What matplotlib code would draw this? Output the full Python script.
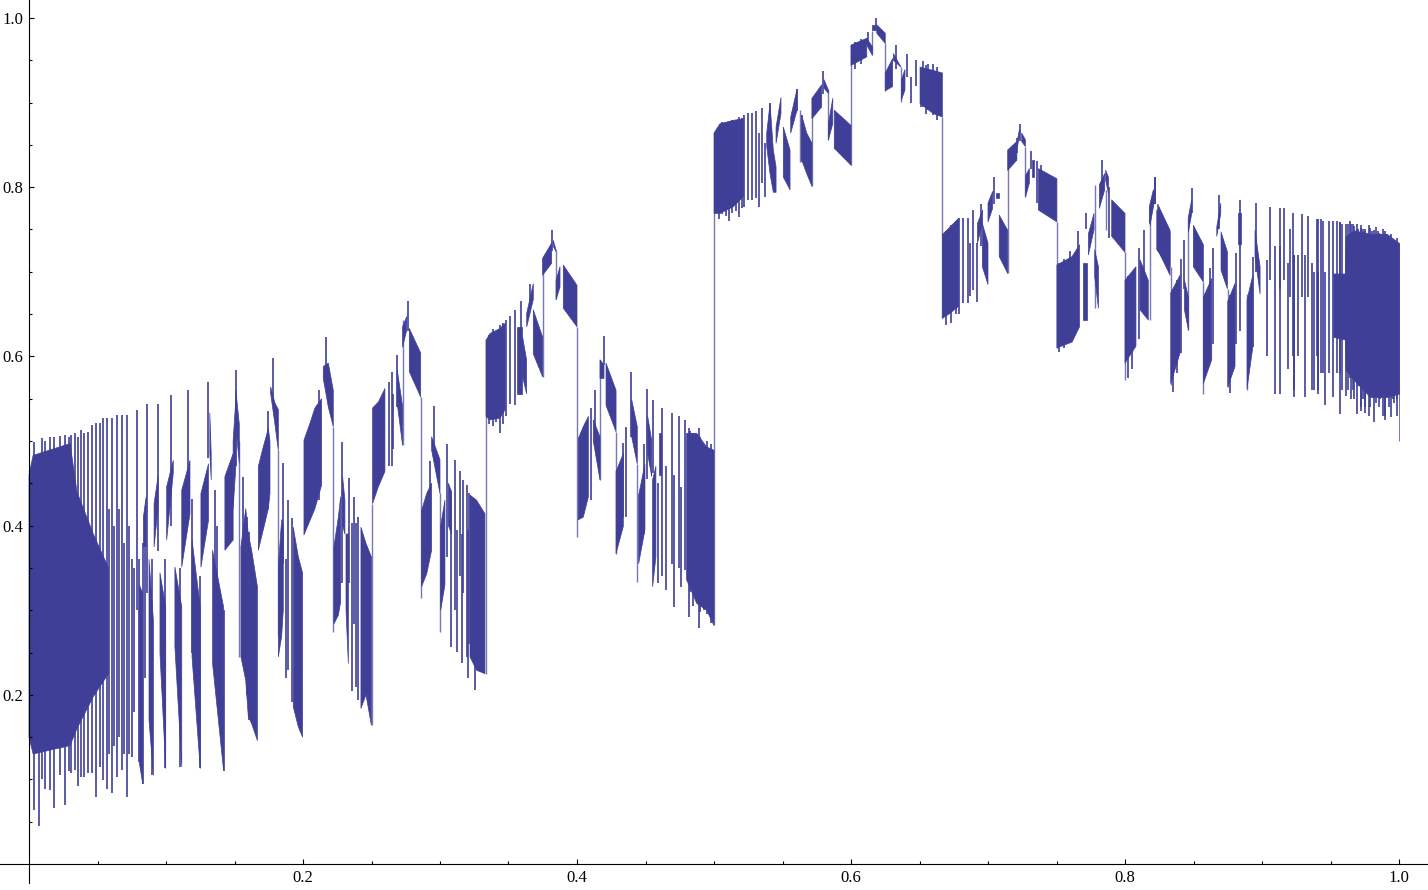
import numpy as np
import matplotlib
matplotlib.use('Agg')
import matplotlib.pyplot as plt

N = np.nan
COLOR = '#3f3f98'

# solid parts of the curve: x, upper edge, lower edge (N = break)
band_x_1 = [0, .003, .03, .035, .047, .058, N,
            .0805, .083, N,
            .0835, .0855, N,
            .0876, .0908, N,
            .0913, .0942, N,
            .0956, .0998, N,
            .1005, .1053, N,
            .1065, .1115, N,
            .1115, .1175, N,
            .119, .125, N,
            .1255, .131, N,
            .132, .133, N,
            .134, .142, N,
            .143, .149, N,
            .149, .151, N,
            .151, .1535, N]
band_hi_1 = [.46, .483, .497, .44, .39, .35, N,
             .33, .32, N,
             .41, .434, N,
             .36, .288, N,
             .426, .458, N,
             .344, .304, N,
             .446, .477, N,
             .351, .304, N,
             .442, .477, N,
             .383, .304, N,
             .438, .473, N,
             .533, .485, N,
             .371, .304, N,
             .458, .485, N,
             .50, .55, N,
             .56, .52, N]
band_lo_1 = [.15, .13, .14, .16, .198, .225, N,
             .12, .095, N,
             .375, .375, N,
             .17, .105, N,
             .375, .42, N,
             .249, .113, N,
             .383, .462, N,
             .257, .115, N,
             .351, .414, N,
             .245, .113, N,
             .351, .406, N,
             .485, .454, N,
             .237, .111, N,
             .371, .383, N,
             .42, .47, N,
             .517, .474, N]

band_x_2 = [.1547, .1582, .1601, .1625, .1667, N,
            .1674, .1710, .1747, .1759, N,
            .1764, .1795, .182, N,
            .182, .1844, .1856, N,
            .1929, .1966, .1997, N,
            .2007, .2051, .2087, .2136, N,
            .2148, .2185, .2221, N,
            .2226, .2258, .2275, N,
            .2289, .2306, N,
            .2314, .2331, N,
            .2423, .2460, .2499, N,
            .2508, .2550, .2598, N,
            .2688, .2727, N,
            .2727, .2757, N,
            .2776, .2859, N,
            .2866, .2903, .2939, N,
            .2939, .3, N,
            .3005, .3036, N,
            .3061, .3085, N,
            .3219, .3267, .3328, N]
band_hi_2 = [.375, .42, .39, .371, .328, N,
             .47, .493, .515, .50, N,
             .564, .545, .537, N,
             .351, .407, .40, N,
             .398, .363, .344, N,
             .501, .521, .539, .55, N,
             .588, .592, .56, N,
             .375, .41, .434, N,
             .458, .43, N,
             .39, .39, N,
             .398, .379, .363, N,
             .539, .546, .562, N,
             .584, .541, N,
             .635, .647, N,
             .633, .604, N,
             .418, .438, .45, N,
             .505, .478, N,
             .40, .43, N,
             .45, .44, N,
             .436, .43, .414, N]
band_lo_2 = [.245, .217, .174, .166, .146, N,
             .371, .395, .42, .438, N,
             .556, .52, .489, N,
             .245, .269, .30, N,
             .186, .162, .150, N,
             .389, .406, .42, .448, N,
             .574, .54, .517, N,
             .284, .294, .31, N,
             .40, .39, N,
             .30, .237, N,
             .184, .20, .164, N,
             .426, .446, .464, N,
             .544, .495, N,
             .611, .631, N,
             .582, .552, N,
             .328, .343, .371, N,
             .489, .438, N,
             .30, .33, N,
             .40, .39, N,
             .245, .229, .225, N]

band_x_3 = [.3336, .3365, .3438, .3475, N,
            .356, .3596, N,
            .3603, .3632, N,
            .3633, .3681, N,
            .3681, .3749, N,
            .3749, .3815, N,
            .3827, .3847, N,
            .3847, .3876, N,
            .3900, .4, N,
            .4010, .4046, .4083, N,
            .4119, .4168, N,
            .4168, .4197, N,
            .4212, .4285, N,
            .4285, .4338, N,
            .4399, .4440, N,
            .4450, .4496, N,
            .4516, .4545, N,
            .4552, .4576, N,
            .4600, .4614, N,
            .4800, .4874, .4946, .5, N]
band_hi_3 = [.619, .627, .633, .639, N,
             .635, .635, N,
             .623, .596, N,
             .651, .686, N,
             .655, .623, N,
             .716, .734, N,
             .737, .726, N,
             .69, .706, N,
             .708, .684, N,
             .503, .517, .529, N,
             .525, .505, N,
             .596, .59, N,
             .592, .56, N,
             .464, .485, N,
             .549, .517, N,
             .436, .473, N,
             .529, .501, N,
             .454, .47, N,
             .51, .51, N,
             .509, .509, .493, .489, N]
band_lo_3 = [.529, .525, .527, .537, N,
             .556, .556, N,
             .576, .556, N,
             .635, .667, N,
             .603, .576, N,
             .696, .71, N,
             .73, .724, N,
             .667, .682, N,
             .657, .635, N,
             .407, .41, .434, N,
             .5, .454, N,
             .574, .574, N,
             .542, .511, N,
             .367, .399, N,
             .505, .473, N,
             .355, .395, N,
             .485, .458, N,
             .328, .363, N,
             .46, .46, N,
             .336, .308, .30, .282, N]

band_x_4 = [.5, .5044, .5141, .5214, N,
            .5385, .5409, .5433, .5453, N,
            .5453, .5489, N,
            .5506, .5555, N,
            .5560, .5606, N,
            .5640, .5677, .5715, N,
            .5715, .5786, N,
            .5803, .5835, N,
            .5835, .5867, N,
            .5878, .6, N,
            .6, .6115, N,
            .6115, .6156, N,
            .6156, .6173, N,
            .6188, .6250, N,
            .6250, .6304, N,
            .6309, .6365, N,
            .6368, .6394, N,
            .6504, .6601, .6667, N]
band_hi_4 = [.864, .875, .879, .881, N,
             .864, .899, .844, .824, N,
             .871, .906, N,
             .871, .844, N,
             .883, .916, N,
             .885, .864, .852, N,
             .905, .921, N,
             .927, .915, N,
             .875, .905, N,
             .891, .873, N,
             .968, .976, N,
             .976, .966, N,
             .992, .992, N,
             .992, .982, N,
             .935, .952, N,
             .958, .942, N,
             .927, .939, N,
             .942, .938, .935, N]
band_lo_4 = [.769, .769, .777, .789, N,
             .848, .816, .794, .794, N,
             .852, .887, N,
             .812, .797, N,
             .864, .891, N,
             .832, .816, .801, N,
             .881, .895, N,
             .917, .911, N,
             .856, .875, N,
             .846, .826, N,
             .944, .954, N,
             .968, .956, N,
             .986, .986, N,
             .982, .97, N,
             .914, .919, N,
             .95, .942, N,
             .903, .915, N,
             .899, .887, .883, N]

band_x_5 = [.6667, .6723, .6784, N,
            .6923, .6961, N,
            .6959, .7, N,
            .7, .7034, N,
            .7059, .7081, N,
            .7082, .7144, N,
            .7144, .7211, N,
            .7215, .7229, N,
            .7246, .7273, N,
            .7275, .7302, N,
            .7322, .7336, N,
            .7368, .7503, N,
            .7503, .7614, .7668, N,
            .7696, .7720, N,
            .7733, .7774, N,
            .7779, .7806, N,
            .7813, .7852, N,
            .7859, .7879, N,
            .7903, .8, N,
            .8, .8080, N,
            .8110, .8170, N,
            .8183, .8212, N,
            .8239, .8329, N]
band_hi_5 = [.744, .753, .763, N,
             .757, .773, N,
             .757, .734, N,
             .781, .795, N,
             .793, .793, N,
             .767, .749, N,
             .844, .854, N,
             .856, .868, N,
             .864, .856, N,
             .814, .822, N,
             .832, .832, N,
             .822, .81, N,
             .708, .718, .732, N,
             .71, .71, N,
             .745, .769, N,
             .726, .706, N,
             .803, .816, N,
             .82, .812, N,
             .785, .769, N,
             .69, .706, N,
             .714, .69, N,
             .777, .797, N,
             .78, .749, N]
band_lo_5 = [.645, .651, .659, N,
             .734, .757, N,
             .706, .685, N,
             .759, .775, N,
             .787, .787, N,
             .718, .698, N,
             .82, .832, N,
             .848, .86, N,
             .854, .848, N,
             .789, .805, N,
             .812, .812, N,
             .773, .759, N,
             .61, .617, .635, N,
             .643, .643, N,
             .72, .75, N,
             .694, .657, N,
             .775, .797, N,
             .808, .793, N,
             .742, .723, N,
             .592, .612, N,
             .655, .643, N,
             .755, .781, N,
             .726, .696, N]

band_x_6 = [.8178, .8207, N,
            .8232, .8329, N,
            .8334, .8402, N,
            .8434, .8463, N,
            .8463, .8487, N,
            .8499, .8572, N,
            .8572, .8633, N,
            .8670, .8699, N,
            .8701, .8747, N,
            .8750, .8803, N,
            .8823, .8845, N,
            .8891, .8933, N,
            .8949, .8986, N,
            .9998, 1.0, N]
band_hi_6 = [.777, .797, N,
             .773, .747, N,
             .675, .696, N,
             .69, .67, N,
             .765, .785, N,
             .755, .732, N,
             .67, .692, N,
             .753, .781, N,
             .747, .724, N,
             .665, .686, N,
             .769, .769, N,
             .667, .696, N,
             .749, .706, N,
             .734, .734, N]
band_lo_6 = [.757, .781, N,
             .726, .706, N,
             .568, .604, N,
             .655, .631, N,
             .747, .769, N,
             .706, .688, N,
             .568, .596, N,
             .742, .769, N,
             .702, .68, N,
             .564, .588, N,
             .733, .733, N,
             .562, .611, N,
             .718, .674, N,
             .5, .5, N]

# right end block of the curve
block_x = [.9521, .9606, .9610, .9670, .9790, .9910, 1.0]
block_hi = [.698, .698, .742, .749, .745, .745, .734]
block_lo = [.623, .62, .584, .572, .552, .552, .556]

# thin single strokes: x, top, bottom
spike_x_1 = [.0039, .0073, .0095, .012, .0155, .0183, .0225, .0262, .029,
             .031, .0335, .036, .038, .0405, .043, .046, .0488, .0518, .0537, .0572, .0605, .064, .0676, .0712,
             .0752, .0785, .083, .086, .090, .094, .099, .104, .110, .116, .119, .125, .131, .1357, .137, .142, .151,
             .1564, .1594, .1608]
spike_hi_1 = [.499, .482, .503, .50, .505, .505, .506, .507, .505,
              .507, .510, .505, .513, .509, .511, .519, .521, .521, .527, .527, .527, .531, .531, .531,
              .36, .537, .38, .544, .36, .544, .36, .554, .35, .56, .432, .34, .57, .442, .40, .30, .584,
              .458, .41, .393]
spike_lo_1 = [.064, .045, .10, .089, .087, .066, .105, .07, .11,
              .107, .111, .092, .103, .103, .107, .107, .079, .115, .099, .089, .084, .103, .111, .079,
              .127, .30, .095, .32, .105, .37, .113, .40, .115, .46, .25, .113, .48, .29, .26, .11, .47,
              .25, .20, .17]

spike_x_2 = [.1747, .1778, .1856, .1876, .1893, .1917, .2119, .2168, .2282, .2338, .2355, .2372, .2387, .2404,
             .263, .2647, .2659, .2684, .2764, .2927, .2956, .3051, .308, .3109, .3126, .3146, .3158, .317,
             .3194, .3202, .3214, .3255]
spike_hi_2 = [.535, .598, .474, .36, .430, .409, .56, .623, .499, .456, .403, .434, .403, .41,
              .57, .582, .555, .602, .666, .476, .541, .497, .434, .478, .395, .464, .39, .454,
              .448, .395, .438, .43]
spike_lo_2 = [.42, .55, .355, .22, .229, .192, .43, .575, .332, .332, .204, .284, .209, .194,
              .47, .47, .49, .54, .63, .37, .49, .363, .257, .30, .251, .34, .237, .32,
              .245, .22, .26, .206]

spike_x_3 = [.3511, .3545, .3594, .3655, .3820, .3930, .4100, .4131, .4200, .4339, .4355, .4391, .4489, .4510,
             .4558, .4591, .4622, .4650, .4691, .4708, .4741, .4762, .4791, .4818, .4892]
spike_hi_3 = [.648, .655, .665, .686, .749, .70, .539, .56, .624, .498, .517, .581, .497, .561,
              .548, .45, .539, .47, .533, .46, .529, .446, .525, .515, .515]
spike_lo_3 = [.544, .542, .615, .66, .725, .66, .43, .515, .59, .41, .41, .505, .39, .455,
              .462, .332, .34, .324, .355, .304, .35, .328, .347, .292, .279]

spike_x_4 = [.5222, .5246, .5275, .5307, .5331, .5348, .5375, .5409, .5606,
             .5640, .5798, .6122, .6180, .6326, .6407, .6436, .6475, .6512, .6524, .6560]
spike_hi_4 = [.885, .888, .888, .890, .864, .894, .852, .899, .916,
              .885, .937, .983, 1.0, .968, .957, .93, .95, .93, .949, .946]
spike_lo_4 = [.777, .785, .785, .787, .777, .805, .789, .85, .89,
              .83, .91, .968, .985, .94, .93, .899, .92, .895, .895, .891]

spike_x_5 = [.6791, .6820, .6852, .6889, .6869, .6918, .6949, .7042,
             .7212, .7236, .7314, .7356, .7385, .7628, .7628, .7660, .7716, .7832, .7881, .8105, .8139, .8219]
spike_hi_5 = [.764, .764, .764, .773, .734, .734, .78, .812,
              .858, .875, .843, .831, .826, .72, .72, .748, .769, .832, .80, .728, .749, .812]
spike_lo_5 = [.65, .663, .663, .678, .671, .664, .73, .78,
              .84, .855, .822, .781, .773, .63, .63, .68, .75, .80, .74, .62, .68, .78]

spike_x_6 = [.8219, .8407, .8431, .8487, .8624, .8645, .8687, .8808, .8840, .8840, .8932, .8957, .9035, .9062,
             .9095, .9134, .9134, .9158, .9190, .9204, .9225, .9237, .9236, .9263, .9290, .9315, .9339, .9363,
             .9376, .9398, .9410, .9412, .9431, .9412, .9448, .9462, .9488, .9516, .9545, .9570, .9570, .9584,
             .9614, .9641, .9664, .9690, .9691, .9724, .9737, .9754, .9789, .9814, .9847, .9861, .9899, .9935,
             .9955, .9985, .9984]
spike_hi_6 = [.812, .715, .737, .799, .704, .728, .791, .722, .785, .75, .718, .781, .714, .777,
              .73, .775, .73, .775, .71, .75, .77, .72, .72, .72, .768, .72, .766, .71,
              .70, .763, .70, .70, .763, .763, .76, .70, .76, .76, .76, .759, .759, .757,
              .757, .76, .757, .75, .757, .755, .75, .75, .752, .749, .748, .745, .745, .734,
              .735, .74, .735]
spike_lo_6 = [.78, .604, .68, .77, .615, .615, .75, .615, .73, .63, .611, .70, .60, .69,
              .556, .68, .556, .69, .585, .67, .60, .552, .56, .60, .67, .552, .67, .56,
              .56, .60, .556, .56, .58, .60, .58, .543, .58, .552, .58, .532, .58, .56,
              .553, .575, .56, .57, .532, .54, .55, .533, .54, .523, .56, .55, .529, .56,
              .55, .53, .55]

# extra strokes that roughen the edges of the solid parts
jag_x = [.0585, .0622, .0658, .0694, .0732, .0768, .0805, .0845,
         .3360, .3385, .3410, .3435, .3460, .3485,
         .4825, .4850, .4875, .4900, .4925, .4950, .4975,
         .5035, .5060, .5085, .5110, .5135, .5160, .5185, .5205,
         .6030, .6070, .6550, .6600, .6630,
         .6695, .6730, .6765, .7515, .7555, .7595, .8025, .8050, .8350, .8380, .8770,
         .9630, .9650, .9675, .9700, .9725, .9755, .9780, .9805, .9830, .9855, .9880, .9900, .9925, .9945, .9965]
jag_hi = [.42, .40, .42, .38, .40, .35, .36, .38,
          .625, .632, .625, .637, .640, .643,
          .512, .510, .505, .505, .497, .500, .497,
          .866, .877, .873, .876, .880, .875, .883, .882,
          .972, .975, .945, .946, .942,
          .748, .755, .760, .710, .715, .725, .695, .700, .680, .690, .672,
          .757, .757, .754, .750, .752, .748, .755, .748, .753, .746, .750, .748, .740, .745, .735]
jag_lo = [.13, .14, .15, .13, .13, .18, .12, .22,
          .520, .518, .522, .510, .520, .530,
          .322, .305, .315, .298, .300, .295, .285,
          .762, .768, .766, .760, .769, .772, .765, .776,
          .940, .946, .887, .885, .880,
          .637, .640, .650, .605, .610, .625, .574, .585, .558, .580, .557,
          .560, .550, .550, .565, .535, .540, .530, .558, .545, .540, .530, .525, .540, .528, .545]

# vertical jumps of the curve: x, lower end, upper end
jump_x = [.1535, .182, .2221, .25, .2727, .2859, .3, .3333, .3749, .3847, .4, .4168, .4285, .444, .5,
          .5625, .5715, .5835, .6, .6156, .625, .6365, .6667, .7144, .7273, .75, .7779, .7859, .8, .8183,
          .8334, .8463, .8572, .875, .889]
jump_lo = [.245, .269, .274, .164, .495, .314, .274, .225, .576, .668, .387, .454, .367, .333, .282,
           .83, .801, .856, .826, .956, .914, .901, .645, .698, .789, .61, .657, .749, .572, .643,
           .566, .631, .556, .564, .56]
jump_hi = [.50, .489, .517, .426, .643, .552, .438, .62, .716, .726, .635, .596, .511, .473, .77,
           .891, .905, .915, .968, .985, .97, .942, .883, .844, .848, .759, .803, .797, .723, .777,
           .706, .765, .688, .68, .674]

x_ticks = [.2, .4, .6, .8, 1.0]
y_ticks = [.2, .4, .6, .8, 1.0]
x_minor = [.05, .1, .15, .25, .3, .35, .45, .5, .55, .65, .7, .75, .85, .9, .95]
y_minor = [.05, .1, .15, .25, .3, .35, .45, .5, .55, .65, .7, .75, .85, .9, .95]

plt.rcParams['font.family'] = ['Liberation Serif', 'DejaVu Serif']

fig = plt.figure(figsize=(14.28, 8.9), dpi=100)
ax = fig.add_axes([0, 0, 1, 1])

bands = [(band_x_1, band_hi_1, band_lo_1), (band_x_2, band_hi_2, band_lo_2),
         (band_x_3, band_hi_3, band_lo_3), (band_x_4, band_hi_4, band_lo_4),
         (band_x_5, band_hi_5, band_lo_5), (band_x_6, band_hi_6, band_lo_6),
         (block_x, block_hi, block_lo)]
for bx, bhi, blo in bands:
    ax.fill_between(bx, blo, bhi, color=COLOR, linewidth=0.5)

spikes = [(spike_x_1, spike_hi_1, spike_lo_1), (spike_x_2, spike_hi_2, spike_lo_2),
          (spike_x_3, spike_hi_3, spike_lo_3), (spike_x_4, spike_hi_4, spike_lo_4),
          (spike_x_5, spike_hi_5, spike_lo_5), (spike_x_6, spike_hi_6, spike_lo_6),
          (jag_x, jag_hi, jag_lo)]
for sx, shi, slo in spikes:
    ax.vlines(sx, slo, shi, color=COLOR, linewidth=1.2)

ax.vlines(jump_x, jump_lo, jump_hi, color=COLOR, linewidth=1.0, alpha=0.7)

ax.set_xlim(-29 / 1370, 1399 / 1370)
ax.set_ylim(-26 / 846, 864 / 846)
for side in ['top', 'right']:
    ax.spines[side].set_visible(False)
ax.spines['left'].set_position(('data', 0))
ax.spines['bottom'].set_position(('data', 0))
ax.spines['left'].set_bounds(-.0225, 1.0213)
ax.set_xticks(x_ticks)
ax.set_yticks(y_ticks)
ax.set_xticks(x_minor, minor=True)
ax.set_yticks(y_minor, minor=True)
ax.set_xticklabels(['0.2', '0.4', '0.6', '0.8', '1.0'])
ax.set_yticklabels(['0.2', '0.4', '0.6', '0.8', '1.0'])
ax.tick_params(which='major', direction='in', length=3.5, width=0.8, labelsize=12, pad=4)
ax.tick_params(which='minor', direction='in', length=2, width=0.8)

fig.savefig('out.png', dpi=100)
